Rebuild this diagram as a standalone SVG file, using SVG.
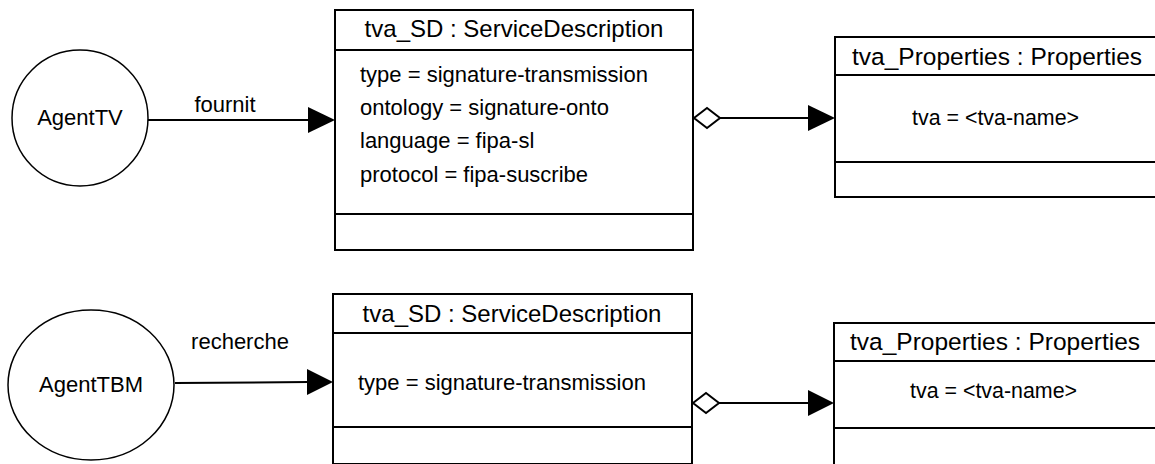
<svg xmlns="http://www.w3.org/2000/svg" width="1155" height="464" viewBox="0 0 1155 464">
<style>
  text { font-family: "Liberation Sans", Arial, sans-serif; fill: #000; }
  .t { font-size: 24px; }
  .tp { font-size: 24.5px; }
  .b { font-size: 22px; }
  .a { font-size: 21.4px; }
  .box { fill: #fff; stroke: #000; stroke-width: 2; }
  .sep { stroke: #000; stroke-width: 2; }
  .agent { fill: #fff; stroke: #000; stroke-width: 1.5; }
  .edge { stroke: #000; stroke-width: 2; fill: none; }
  .head { fill: #000; stroke: none; }
  .dia { fill: #fff; stroke: #000; stroke-width: 2; }
</style>
<rect width="1155" height="464" fill="#fff"/>

<g id="agentTV">
  <circle class="agent" cx="80" cy="118" r="68"/>
  <text class="b" x="80" y="125" text-anchor="middle">AgentTV</text>
</g>

<g id="sd1">
  <rect class="box" x="335" y="10" width="358" height="240"/>
  <line class="sep" x1="335" y1="50" x2="693" y2="50"/>
  <line class="sep" x1="335" y1="214" x2="693" y2="214"/>
  <text class="t" x="514" y="37" text-anchor="middle">tva_SD : ServiceDescription</text>
  <text class="b" x="360" y="82">type = signature-transmission</text>
  <text class="b" x="360" y="115">ontology = signature-onto</text>
  <text class="b" x="360" y="148">language = fipa-sl</text>
  <text class="b" x="360" y="182">protocol = fipa-suscribe</text>
</g>

<g id="props1">
  <rect class="box" x="835" y="37" width="330" height="160"/>
  <line class="sep" x1="835" y1="75" x2="1165" y2="75"/>
  <line class="sep" x1="835" y1="162" x2="1165" y2="162"/>
  <text class="tp" x="852" y="65">tva_Properties : Properties</text>
  <text class="a" x="912" y="125">tva = &lt;tva-name&gt;</text>
</g>

<g id="agentTBM">
  <ellipse class="agent" cx="91" cy="385" rx="83" ry="75"/>
  <text class="b" x="91" y="392" text-anchor="middle">AgentTBM</text>
</g>

<g id="sd2">
  <rect class="box" x="333" y="294" width="359" height="170"/>
  <line class="sep" x1="333" y1="333" x2="692" y2="333"/>
  <line class="sep" x1="333" y1="427" x2="692" y2="427"/>
  <text class="t" x="512" y="322" text-anchor="middle">tva_SD : ServiceDescription</text>
  <text class="b" x="358" y="390">type = signature-transmission</text>
</g>

<g id="props2">
  <rect class="box" x="834" y="323" width="330" height="160"/>
  <line class="sep" x1="834" y1="361" x2="1164" y2="361"/>
  <line class="sep" x1="834" y1="428" x2="1164" y2="428"/>
  <text class="tp" x="850" y="350">tva_Properties : Properties</text>
  <text class="a" x="910" y="398">tva = &lt;tva-name&gt;</text>
</g>

<g id="connectors">
  <line class="edge" x1="148" y1="120" x2="310" y2="120"/>
  <polygon class="head" points="308,107 335,120 308,133"/>
  <text class="b" x="225" y="112" text-anchor="middle">fournit</text>

  <polygon class="dia" points="694,118 707,108 720,118 707,128"/>
  <line class="edge" x1="720" y1="118" x2="810" y2="118"/>
  <polygon class="head" points="808,105 835,118 808,131"/>

  <line class="edge" x1="175" y1="383" x2="309" y2="382"/>
  <polygon class="head" points="307,369 333,382 307,395"/>
  <text class="b" x="240" y="349" text-anchor="middle">recherche</text>

  <polygon class="dia" points="693,403 706,393 719,403 706,413"/>
  <line class="edge" x1="719" y1="403" x2="810" y2="403"/>
  <polygon class="head" points="808,390 834,403 808,416"/>
</g>
</svg>
